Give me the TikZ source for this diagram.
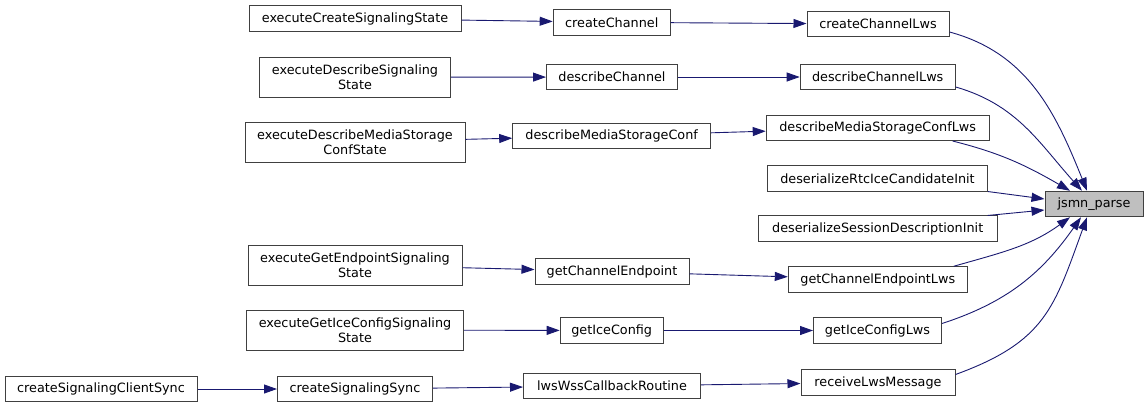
\documentclass[tikz,border=0pt]{standalone}
\usepackage{fontspec}
\setmainfont{DejaVu Sans}
\usetikzlibrary{arrows.meta}
\definecolor{edgeblue}{HTML}{191970}
\definecolor{rootgray}{HTML}{BFBFBF}
\definecolor{boxline}{HTML}{404040}
\begin{document}
\begin{tikzpicture}[x=1pt,y=1pt,
  fn/.style={draw=boxline, line width=1pt, fill=white, align=center, inner xsep=3pt, inner ysep=1pt,
    minimum height=25.5pt, font=\fontsize{12.8}{14.5}\selectfont},
  fntwo/.style={fn, minimum height=40pt},
  fnroot/.style={fn, fill=rootgray},
  call/.style={draw=edgeblue, line width=0.9pt, -{Triangle[length=13pt,width=9pt]}}]
\useasboundingbox (0,0) rectangle (1148,-408);
% callers, leftmost columns
\node[fn, minimum width=192pt] (cscs) at (101,-389) {createSignalingClientSync};
\node[fn, minimum width=212pt] (ecss) at (355,-18.5) {executeCreateSignalingState};
\node[fntwo, minimum width=191pt] (edss) at (355,-77.3) {executeDescribeSignaling\\State};
\node[fntwo, minimum width=220pt] (edmscs) at (355,-142) {executeDescribeMediaStorage\\ConfState};
\node[fntwo, minimum width=214pt] (egess) at (355,-265) {executeGetEndpointSignaling\\State};
\node[fntwo, minimum width=217pt] (egicss) at (355,-330) {executeGetIceConfigSignaling\\State};
\node[fn, minimum width=155pt] (css) at (355,-389) {createSignalingSync};
% middle column
\node[fn, minimum width=117pt] (cc) at (611.7,-22.3) {createChannel};
\node[fn, minimum width=131pt] (dc) at (612,-77) {describeChannel};
\node[fn, minimum width=198pt] (dmsc) at (611.7,-135.8) {describeMediaStorageConf};
\node[fn, minimum width=154pt] (gce) at (612,-271.5) {getChannelEndpoint};
\node[fn, minimum width=103pt] (gic) at (611.7,-330.5) {getIceConfig};
\node[fn, minimum width=177pt] (lwcr) at (612,-386) {lwsWssCallbackRoutine};
% direct callers of jsmn_parse
\node[fn, minimum width=142pt] (ccl) at (878,-24) {createChannelLws};
\node[fn, minimum width=155pt] (dcl) at (877.7,-77) {describeChannelLws};
\node[fn, minimum width=223pt] (dmscl) at (877.7,-127.8) {describeMediaStorageConfLws};
\node[fn, minimum width=220pt] (drci) at (877.5,-178.3) {deserializeRtcIceCandidateInit};
\node[fn, minimum width=239pt] (dsdi) at (877.7,-228.7) {deserializeSessionDescriptionInit};
\node[fn, minimum width=179pt] (gcel) at (877.8,-279.5) {getChannelEndpointLws};
\node[fn, minimum width=128pt] (gicl) at (877.5,-330.5) {getIceConfigLws};
\node[fn, minimum width=154pt] (rlm) at (878,-382.5) {receiveLwsMessage};
\node[fnroot, minimum width=98pt] (jsmn) at (1094,-204) {jsmn\_parse};
% straight calls
\draw[call] (ecss) -- (cc);
\draw[call] (edss) -- (dc);
\draw[call] (edmscs) -- (dmsc);
\draw[call] (egess) -- (gce);
\draw[call] (egicss) -- (gic);
\draw[call] (cscs) -- (css);
\draw[call] (css) -- (lwcr);
\draw[call] (cc) -- (ccl);
\draw[call] (dc) -- (dcl);
\draw[call] (dmsc) -- (dmscl);
\draw[call] (gce) -- (gcel);
\draw[call] (gic) -- (gicl);
\draw[call] (lwcr) -- (rlm);
% calls into jsmn_parse
\draw[call] ([yshift=-8]ccl.east) to[out=-15, in=112] ([xshift=-7]jsmn.north);
\draw[call] ([yshift=-10]dcl.east) to[out=-16, in=132] ([xshift=-12]jsmn.north);
\draw[call] ([xshift=75]dmscl.south) to[out=-14, in=150] ([xshift=-24]jsmn.north);
\draw[call] (drci.south east) -- ([yshift=5]jsmn.west);
\draw[call] ([xshift=-10]dsdi.north east) -- ([yshift=-6]jsmn.west);
\draw[call] ([xshift=-14]gcel.north east) to[out=16, in=-144] ([xshift=-24]jsmn.south);
\draw[call] ([yshift=7]gicl.east) to[out=18, in=-125] ([xshift=-13]jsmn.south);
\draw[call] ([yshift=8]rlm.east) to[out=20, in=-110, looseness=1.2] ([xshift=-7]jsmn.south);
\end{tikzpicture}
\end{document}
